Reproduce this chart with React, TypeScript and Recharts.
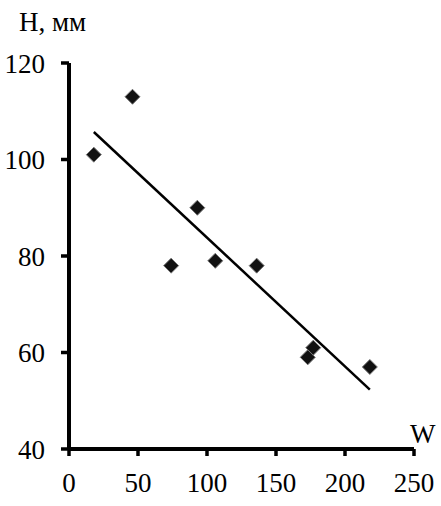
import React from "react";
import { ScatterChart, Scatter, XAxis, YAxis } from "recharts";

const wValues = [18, 46, 74, 93, 106, 136, 173, 177, 218];
const hValues = [101, 113, 78, 90, 79, 78, 59, 61, 57];
const trendW = [18, 218];
const trendH = [105.7, 52.3];
const xTicks = [0, 50, 100, 150, 200, 250];
const yTicks = [40, 60, 80, 100, 120];

const points = wValues.map((w, i) => ({ w, h: hValues[i] }));
const trend = trendW.map((w, i) => ({ w, h: trendH[i] }));

const FONT = "'Liberation Serif', 'Times New Roman', serif";

const Diamond = (props: any) => {
  const { cx, cy } = props;
  const r = 7.5;
  return (
    <path
      d={`M${cx},${cy - r} L${cx + r},${cy} L${cx},${cy + r} L${cx - r},${cy} Z`}
      fill="#111"
      stroke="#777"
      strokeWidth={1}
    />
  );
};

export default function App() {
  return (
    <div style={{ position: "absolute", left: 0, top: 0, width: 441, height: 506, background: "#fff" }}>
      <ScatterChart width={441} height={506} margin={{ top: 63, right: 27, bottom: 0, left: 0 }}>
        <XAxis
          type="number"
          dataKey="w"
          domain={[0, 250]}
          ticks={xTicks}
          height={57}
          axisLine={{ stroke: "#000", strokeWidth: 4 }}
          tickLine={{ stroke: "#000", strokeWidth: 3.5 }}
          tickSize={7}
          tickMargin={17}
          tick={{ fill: "#000", fontSize: 27, fontFamily: FONT }}
          interval={0}
        />
        <YAxis
          type="number"
          dataKey="h"
          domain={[40, 120]}
          ticks={yTicks}
          width={69}
          axisLine={{ stroke: "#000", strokeWidth: 4 }}
          tickLine={{ stroke: "#000", strokeWidth: 3.5 }}
          tickSize={8}
          tickMargin={16}
          tick={{ fill: "#000", fontSize: 27, fontFamily: FONT }}
          interval={0}
        />
        <Scatter
          data={trend}
          line={{ stroke: "#000", strokeWidth: 2.5 }}
          shape={() => null}
          isAnimationActive={false}
        />
        <Scatter data={points} shape={Diamond} isAnimationActive={false} />
      </ScatterChart>
      <svg width={441} height={506} style={{ position: "absolute", left: 0, top: 0, pointerEvents: "none" }}>
        <text x={19} y={31} fontSize={27} fontFamily={FONT} fill="#000">H, мм</text>
        <text x={410} y={443} fontSize={27} fontFamily={FONT} fill="#000">W</text>
      </svg>
    </div>
  );
}
